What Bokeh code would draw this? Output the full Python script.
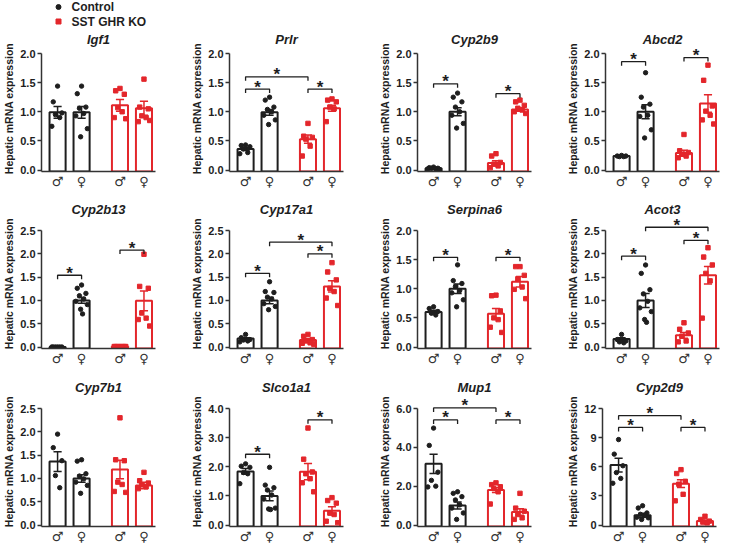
from bokeh.plotting import figure
from bokeh.layouts import column, row
from bokeh.models import Range1d, FixedTicker, NumeralTickFormatter
from bokeh.embed import file_html
from bokeh.resources import INLINE
from bokeh.core.properties import value

# ---------------- data ----------------
legend_labels = ["Control", "SST GHR KO"]
sex_labels = ["♂", "♀", "♂", "♀"]
y_label = "Hepatic mRNA expression"

# group order: Control male, Control female, KO male, KO female
igf1_pts = [[1.44, 1.17, 0.98, 0.95, 0.90, 0.75],
            [1.44, 1.31, 1.08, 1.06, 0.97, 0.93, 0.71, 0.57],
            [1.40, 1.36, 1.30, 1.07, 1.00, 0.90, 0.88],
            [1.56, 1.08, 1.05, 0.93, 0.90, 0.83, 0.85]]
igf1_mean = [0.99, 0.99, 1.11, 1.06]
igf1_sem = [0.10, 0.10, 0.10, 0.12]
igf1_sig = []
igf1_ticks = [0, 0.5, 1.0, 1.5, 2.0]

prlr_pts = [[0.43, 0.42, 0.40, 0.36, 0.30, 0.28],
            [1.25, 1.20, 1.08, 1.04, 1.00, 0.94, 0.86, 0.78],
            [0.80, 0.58, 0.56, 0.53, 0.41, 0.24],
            [1.22, 1.20, 1.17, 1.08, 1.05, 0.83]]
prlr_mean = [0.36, 0.99, 0.53, 1.06]
prlr_sem = [0.02, 0.05, 0.07, 0.05]
prlr_sig = [(0, 1, 1.39), (0, 2, 1.60), (2, 3, 1.39)]
prlr_ticks = [0, 0.5, 1.0, 1.5, 2.0]

cyp2b9_pts = [[0.05, 0.04, 0.03, 0.03, 0.02, 0.02, 0.01],
              [1.32, 1.25, 1.17, 1.08, 1.00, 0.94, 0.80, 0.72],
              [0.28, 0.24, 0.13, 0.10, 0.07, 0.04],
              [1.20, 1.17, 1.11, 1.06, 1.03, 1.00, 0.97]]
cyp2b9_mean = [0.03, 1.00, 0.12, 1.04]
cyp2b9_sem = [0.005, 0.07, 0.04, 0.03]
cyp2b9_sig = [(0, 1, 1.48), (2, 3, 1.31)]
cyp2b9_ticks = [0, 0.5, 1.0, 1.5, 2.0]

abcd2_pts = [[0.25, 0.24, 0.24, 0.23, 0.23],
             [1.67, 1.25, 1.13, 1.08, 0.94, 0.92, 0.69, 0.55],
             [0.61, 0.33, 0.30, 0.27, 0.24, 0.21],
             [1.80, 1.54, 1.10, 1.01, 0.94, 0.86, 0.79]]
abcd2_mean = [0.24, 1.00, 0.29, 1.14]
abcd2_sem = [0.005, 0.12, 0.05, 0.15]
abcd2_sig = [(0, 1, 1.86), (2, 3, 1.93)]
abcd2_ticks = [0, 0.5, 1.0, 1.5, 2.0]

cyp2b13_pts = [[0.0, 0.0, 0.0, 0.0, 0.0, 0.0],
               [1.33, 1.26, 1.15, 1.10, 1.03, 0.98, 0.91, 0.81, 0.71],
               [0.01, 0.01, 0.01, 0.01, 0.01, 0.01, 0.01],
               [1.99, 1.30, 1.26, 0.73, 0.62, 0.59, 0.45]]
cyp2b13_mean = [0.0, 1.00, 0.01, 0.99]
cyp2b13_sem = [0.0, 0.06, 0.002, 0.21]
cyp2b13_sig = [(0, 1, 1.54), (2, 3, 2.08)]
cyp2b13_ticks = [0, 0.5, 1.0, 1.5, 2.0, 2.5]

cyp17a1_pts = [[0.27, 0.20, 0.16, 0.15, 0.13, 0.11],
               [1.40, 1.19, 1.17, 1.07, 1.03, 0.93, 0.87, 0.80],
               [0.27, 0.23, 0.16, 0.13, 0.09, 0.08, 0.06],
               [1.81, 1.61, 1.44, 1.26, 1.19, 1.05, 0.89]]
cyp17a1_mean = [0.18, 1.00, 0.15, 1.30]
cyp17a1_sem = [0.02, 0.07, 0.03, 0.12]
cyp17a1_sig = [(0, 1, 1.58), (2, 3, 2.00), (1, 3, 2.25)]
cyp17a1_ticks = [0, 0.5, 1.0, 1.5, 2.0, 2.5]

serpina6_pts = [[0.69, 0.66, 0.61, 0.58, 0.55],
                [1.41, 1.14, 1.09, 1.04, 0.97, 0.93, 0.81, 0.69],
                [0.89, 0.88, 0.62, 0.50, 0.47, 0.34, 0.25],
                [1.38, 1.38, 1.23, 1.17, 1.03, 0.99, 0.83]]
serpina6_mean = [0.60, 1.00, 0.57, 1.12]
serpina6_sem = [0.03, 0.08, 0.09, 0.09]
serpina6_sig = [(0, 1, 1.54), (2, 3, 1.54)]
serpina6_ticks = [0, 0.5, 1.0, 1.5, 2.0]

acot3_pts = [[0.27, 0.16, 0.13, 0.11, 0.09],
             [1.76, 1.58, 1.23, 1.14, 0.98, 0.84, 0.76, 0.59, 0.53],
             [0.52, 0.38, 0.30, 0.23, 0.13, 0.11],
             [2.13, 1.93, 1.76, 1.58, 1.42, 0.62]]
acot3_mean = [0.17, 1.00, 0.25, 1.54]
acot3_sem = [0.03, 0.15, 0.06, 0.19]
acot3_sig = [(0, 1, 1.95), (2, 3, 2.29), (1, 3, 2.57)]
acot3_ticks = [0, 0.5, 1.0, 1.5, 2.0, 2.5]

cyp7b1_pts = [[1.95, 1.66, 1.38, 1.06, 0.80],
              [1.40, 1.37, 1.10, 1.05, 0.99, 0.92, 0.85, 0.68],
              [2.30, 1.40, 1.38, 0.92, 0.87, 0.72, 0.70],
              [1.13, 0.95, 0.90, 0.86, 0.82, 0.78]]
cyp7b1_mean = [1.36, 1.00, 1.19, 0.85]
cyp7b1_sem = [0.21, 0.08, 0.20, 0.07]
cyp7b1_sig = []
cyp7b1_ticks = [0, 0.5, 1.0, 1.5, 2.0, 2.5]

slco1a1_pts = [[2.10, 2.02, 1.98, 1.80, 1.76, 1.42],
               [1.98, 1.37, 1.28, 1.20, 1.03, 0.89, 0.58, 0.55, 0.53],
               [3.33, 2.26, 1.82, 1.76, 1.59, 1.45, 1.14],
               [0.94, 0.84, 0.75, 0.41, 0.36, 0.13, 0.08]]
slco1a1_mean = [1.84, 1.00, 1.83, 0.49]
slco1a1_sem = [0.10, 0.17, 0.28, 0.14]
slco1a1_sig = [(0, 1, 2.43), (2, 3, 3.61)]
slco1a1_ticks = [0, 1.0, 2.0, 3.0, 4.0]

mup1_pts = [[4.99, 4.10, 2.72, 2.30, 2.00, 1.96],
            [1.71, 1.63, 1.46, 1.29, 1.04, 0.87, 0.62, 0.29],
            [2.17, 2.08, 1.97, 1.88, 1.71, 1.08],
            [1.63, 0.87, 0.71, 0.54, 0.37, 0.29]]
mup1_mean = [3.15, 1.00, 1.80, 0.67]
mup1_sem = [0.50, 0.18, 0.12, 0.17]
mup1_sig = [(0, 1, 5.41), (0, 2, 6.03), (2, 3, 5.41)]
mup1_ticks = [0, 2.0, 4.0, 6.0]

cyp2d9_pts = [[8.8, 7.3, 6.1, 5.4, 4.8, 4.3],
              [1.98, 1.75, 1.24, 1.10, 0.97, 0.80, 0.74, 0.57],
              [5.7, 5.3, 4.5, 4.2, 3.16, 2.49],
              [0.90, 0.57, 0.40, 0.30, 0.23]]
cyp2d9_mean = [6.17, 1.00, 4.25, 0.40]
cyp2d9_sem = [0.70, 0.20, 0.40, 0.12]
cyp2d9_sig = [(0, 1, 10.05), (0, 2, 11.26), (2, 3, 10.05)]
cyp2d9_ticks = [0, 3, 6, 9, 12]

panels = [
    ("Igf1", igf1_pts, igf1_mean, igf1_sem, igf1_sig, igf1_ticks, "0.0"),
    ("Prlr", prlr_pts, prlr_mean, prlr_sem, prlr_sig, prlr_ticks, "0.0"),
    ("Cyp2b9", cyp2b9_pts, cyp2b9_mean, cyp2b9_sem, cyp2b9_sig, cyp2b9_ticks, "0.0"),
    ("Abcd2", abcd2_pts, abcd2_mean, abcd2_sem, abcd2_sig, abcd2_ticks, "0.0"),
    ("Cyp2b13", cyp2b13_pts, cyp2b13_mean, cyp2b13_sem, cyp2b13_sig, cyp2b13_ticks, "0.0"),
    ("Cyp17a1", cyp17a1_pts, cyp17a1_mean, cyp17a1_sem, cyp17a1_sig, cyp17a1_ticks, "0.0"),
    ("Serpina6", serpina6_pts, serpina6_mean, serpina6_sem, serpina6_sig, serpina6_ticks, "0.0"),
    ("Acot3", acot3_pts, acot3_mean, acot3_sem, acot3_sig, acot3_ticks, "0.0"),
    ("Cyp7b1", cyp7b1_pts, cyp7b1_mean, cyp7b1_sem, cyp7b1_sig, cyp7b1_ticks, "0.0"),
    ("Slco1a1", slco1a1_pts, slco1a1_mean, slco1a1_sem, slco1a1_sig, slco1a1_ticks, "0.0"),
    ("Mup1", mup1_pts, mup1_mean, mup1_sem, mup1_sig, mup1_ticks, "0.0"),
    ("Cyp2d9", cyp2d9_pts, cyp2d9_mean, cyp2d9_sem, cyp2d9_sig, cyp2d9_ticks, "0"),
]

# ---------------- style / layout ----------------
XPOS = [10, 20, 36, 46]
XR = (3.3, 50.8)
BAR_W = 6.7
CAP_W = 3.4
OFFS = [0, -1.8, 1.8, -0.9, 0.9, -2.4, 2.4, -0.4, 0.4, -1.4, 1.4]
BLACK = "#1e1e1e"
RED = "#E3262B"
COLORS = [BLACK, BLACK, RED, RED]
MARKERS = ["circle", "circle", "square", "square"]
FONT = "Liberation Sans"
FRAME_W = 114
FRAME_H = [126, 130, 130]
AXIS_PX = [116.5, 116.5, 116.5]
TOP_B = [18, 27, 28]
BOT_B = [20, 20, 17]
TITLE_STANDOFF = [-3, 4, 4]


def make_panel(idx, spec):
    title, pts, mean, sem, sig, ticks, fmt = spec
    r, c = divmod(idx, 4)
    top = ticks[-1]
    u = top / AXIS_PX[r]
    y0 = -1.5 * u
    y1 = top + (FRAME_H[r] - AXIS_PX[r] - 1.5) * u
    p = figure(frame_width=FRAME_W, frame_height=FRAME_H[r],
               x_range=Range1d(*XR), y_range=Range1d(y0, y1),
               output_backend="svg", toolbar_location=None,
               min_border_left=38, min_border_right=(3 if c == 3 else 33),
               min_border_top=TOP_B[r], min_border_bottom=BOT_B[r],
               outline_line_color=None, background_fill_color="white")
    p.grid.visible = False
    p.title.text = title
    p.title.align = "center"
    p.title.text_font = FONT
    p.title.text_font_style = "bold italic"
    p.title.text_font_size = "13px"
    p.title.text_color = BLACK
    p.title.standoff = TITLE_STANDOFF[r]

    # bars
    p.vbar(x=XPOS, width=BAR_W, top=mean, bottom=y0, fill_color="white",
           line_color=COLORS, line_width=2)
    # points
    for g in range(4):
        xs = [XPOS[g] + OFFS[k % len(OFFS)] for k in range(len(pts[g]))]
        p.scatter(xs, pts[g], marker=MARKERS[g], size=4.4, color=COLORS[g])
    # error bars
    lo = [m - s for m, s in zip(mean, sem)]
    hi = [m + s for m, s in zip(mean, sem)]
    p.segment(x0=XPOS, y0=lo, x1=XPOS, y1=hi, line_color=COLORS, line_width=1.5)
    xl = [x - CAP_W / 2 for x in XPOS]
    xr = [x + CAP_W / 2 for x in XPOS]
    p.segment(x0=xl, y0=hi, x1=xr, y1=hi, line_color=COLORS, line_width=1.5)
    p.segment(x0=xl, y0=lo, x1=xr, y1=lo, line_color=COLORS, line_width=1.5)
    # significance brackets
    if sig:
        t = 4 * u
        bxs, bys, sx, sy = [], [], [], []
        for (i, j, yb) in sig:
            bxs.append([XPOS[i], XPOS[i], XPOS[j], XPOS[j]])
            bys.append([yb - t, yb, yb, yb - t])
            sx.append((XPOS[i] + XPOS[j]) / 2)
            sy.append(yb + 2 * u)
        p.multi_line(xs=bxs, ys=bys, line_color=BLACK, line_width=1.3)
        p.text(x=sx, y=sy, text=["*"] * len(sx), text_font=value(FONT),
               text_font_style="bold", text_font_size="17px",
               text_align="center", text_baseline="alphabetic", text_color=BLACK)

    # axes
    ax = p.xaxis[0]
    ax.ticker = FixedTicker(ticks=XPOS)
    ax.major_label_overrides = {XPOS[k]: sex_labels[k] for k in range(4)}
    ax.major_label_text_font = "DejaVu Sans"
    ax.major_label_text_font_size = "13px"
    ax.major_label_text_color = "#333333"
    ax.major_label_standoff = 2
    ax.major_tick_out = 0
    ax.major_tick_in = 0
    ax.minor_tick_out = 0
    ax.minor_tick_in = 0
    ax.major_tick_line_color = None
    ax.minor_tick_line_color = None
    ax.axis_line_width = 1.5
    ax.axis_line_color = "#333333"

    ay = p.yaxis[0]
    ay.ticker = FixedTicker(ticks=ticks)
    ay.formatter = NumeralTickFormatter(format=fmt)
    ay.bounds = (y0, top)
    ay.axis_label = y_label
    ay.axis_label_text_font = FONT
    ay.axis_label_text_font_style = "bold"
    ay.axis_label_text_font_size = "10.5px"
    ay.axis_label_text_color = BLACK
    ay.axis_label_standoff = 2
    ay.major_label_text_font = FONT
    ay.major_label_text_font_style = "bold"
    ay.major_label_text_font_size = "11px"
    ay.major_label_text_color = BLACK
    ay.major_label_standoff = 2
    ay.major_tick_out = 4
    ay.major_tick_in = 0
    ay.minor_tick_out = 0
    ay.minor_tick_in = 0
    ay.major_tick_line_width = 1.5
    ay.major_tick_line_color = "#333333"
    ay.minor_tick_line_color = None
    ay.axis_line_width = 1.5
    ay.axis_line_color = "#333333"
    return p


figs = [make_panel(i, s) for i, s in enumerate(panels)]

# legend strip (coordinates in pixels of this strip)
LEG_W, LEG_H = 300, 27
lg = figure(width=LEG_W, height=LEG_H, x_range=Range1d(0, LEG_W), y_range=Range1d(LEG_H, 0),
            toolbar_location=None, output_backend="svg", x_axis_type=None,
            y_axis_type=None, outline_line_color=None, min_border_left=0,
            min_border_right=0, min_border_top=0, min_border_bottom=0)
lg.grid.visible = False
leg_y = [6.5, 21.0]
lg.scatter(x=[58], y=[leg_y[0]], marker="circle", size=5, color=BLACK)
lg.scatter(x=[58], y=[leg_y[1]], marker="square", size=5, color=RED)
lg.text(x=[71, 71], y=leg_y, text=legend_labels, text_font=value(FONT),
        text_font_style="bold", text_font_size="12px", text_baseline="middle",
        text_color=BLACK)

layout = column(lg, row(*figs[0:4]), row(*figs[4:8]), row(*figs[8:12]))

open("out.html", "w").write(file_html(layout, INLINE))
